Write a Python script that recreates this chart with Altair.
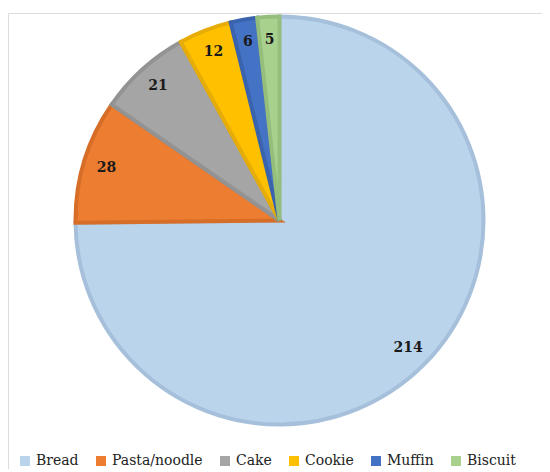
import altair as alt
import pandas as pd

categories = ["Bread", "Pasta/noodle", "Cake", "Cookie", "Muffin", "Biscuit"]
values = [214, 28, 21, 12, 6, 5]
fills = ["#BAD4EC", "#ED7D31", "#A5A5A5", "#FFC000", "#4472C4", "#A9D18E"]
strokes = ["#A6C0DB", "#D66E28", "#939393", "#E6AD08", "#3A63AD", "#95BD7C"]

df = pd.DataFrame({"category": categories, "value": values, "order": list(range(len(categories)))})

cx, cy, r = 271.5, 207.5, 204

base = alt.Chart(df).encode(
    theta=alt.Theta("value:Q", stack=True),
    order=alt.Order("order:Q"),
    x=alt.value(cx),
    y=alt.value(cy),
)

arcs = base.mark_arc(radius=r, strokeWidth=4, strokeJoin="miter").encode(
    color=alt.Color(
        "category:N",
        scale=alt.Scale(domain=categories, range=fills),
        sort=categories,
        legend=alt.Legend(
            title=None,
            orient="none",
            legendX=10,
            legendY=441,
            direction="horizontal",
            symbolType="square",
            symbolSize=100,
            symbolStrokeWidth=0,
            labelFont="DejaVu Serif",
            labelFontSize=14,
            labelColor="#222222",
            labelOffset=4,
            columnPadding=15,
            padding=0,
        ),
    ),
    stroke=alt.Stroke(
        "category:N",
        scale=alt.Scale(domain=categories, range=strokes),
        legend=None,
    ),
)

labels = base.mark_text(
    radius=181,
    font="DejaVu Serif",
    fontSize=14,
    fontWeight="bold",
    color="#1a1a1a",
).encode(text=alt.Text("value:Q"))

chart = (
    alt.layer(arcs, labels)
    .properties(width=534, height=456, padding=0)
    .configure_view(strokeWidth=0, stroke=None)
    .configure(background="white")
)

chart.save("out.html", embed_options={"renderer": "svg", "actions": False})
